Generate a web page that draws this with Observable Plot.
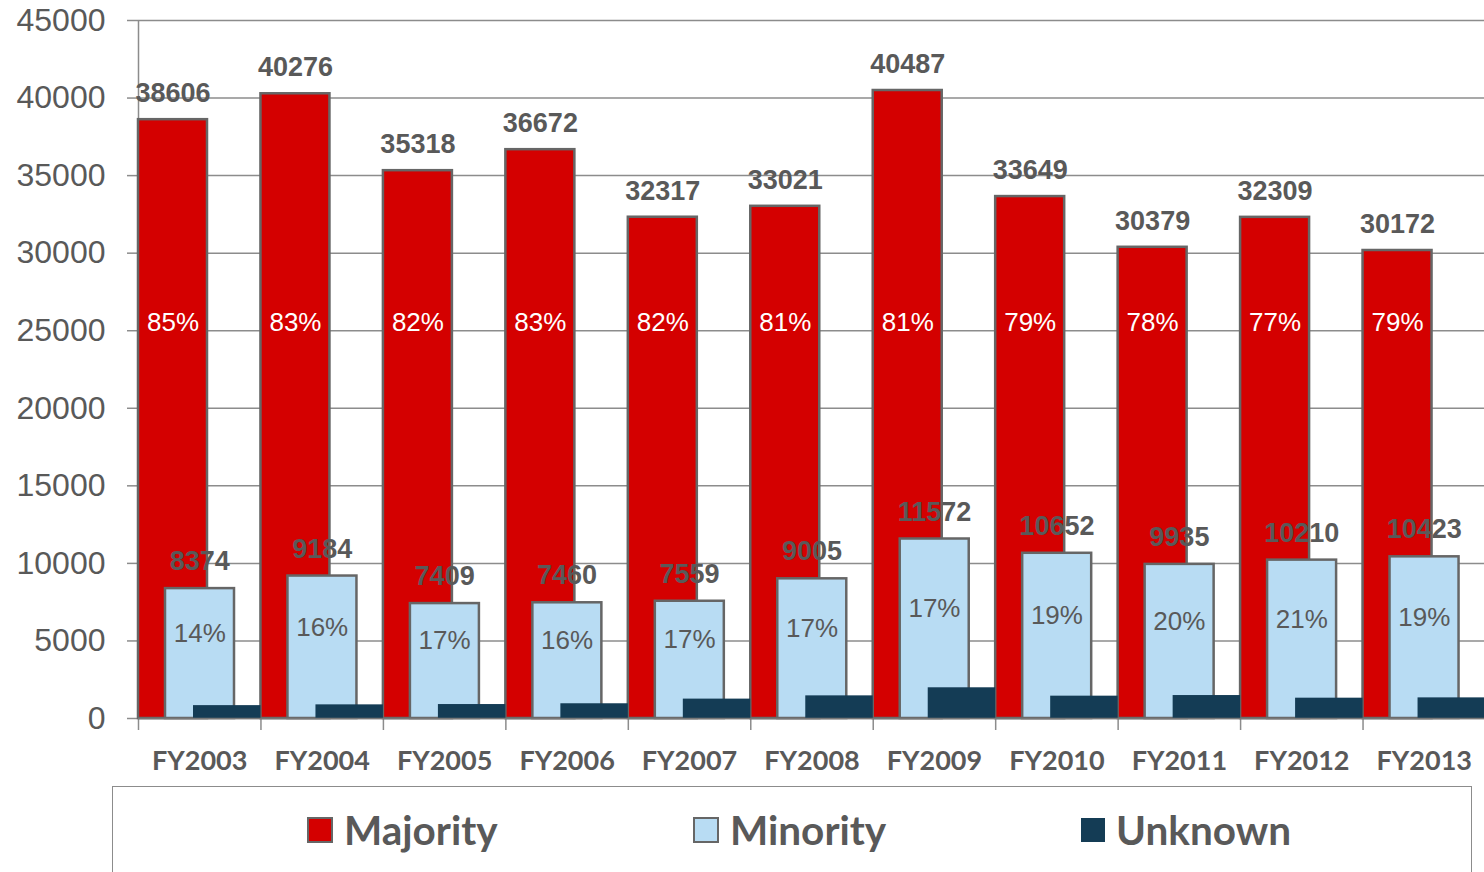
<!DOCTYPE html>
<html>
<head>
<meta charset="utf-8">
<script src="https://cdn.jsdelivr.net/npm/d3@7"></script>
<script src="https://cdn.jsdelivr.net/npm/@observablehq/plot@0.6"></script>
<style>
  html, body { margin: 0; padding: 0; background: #ffffff; overflow: hidden; }
  #wrap { position: relative; width: 1484px; height: 872px; }
  #legend { position: absolute; left: 112px; top: 786px; width: 1360px; height: 120px;
            border: 1.5px solid #8c8c8c; box-sizing: border-box; background: #fff; }
  .item { position: absolute; top: 18px; height: 50px; display: flex; align-items: center; gap: 11px;
          font-family: Lato, "Open Sans", sans-serif; font-weight: bold; font-size: 40.5px; color: #595959; line-height: 1; }
  .sw { width: 22px; height: 22px; border: 2px solid #666666; }
</style>
</head>
<body>
<div id="wrap">
  <div id="chart"></div>
  <div id="legend"></div>
</div>
<script>
const years = ["FY2003","FY2004","FY2005","FY2006","FY2007","FY2008","FY2009","FY2010","FY2011","FY2012","FY2013"];
const majority = [38606, 40276, 35318, 36672, 32317, 33021, 40487, 33649, 30379, 32309, 30172];
const minority = [8374, 9184, 7409, 7460, 7559, 9005, 11572, 10652, 9935, 10210, 10423];
const unknown = [830, 880, 900, 950, 1250, 1460, 1980, 1440, 1480, 1310, 1330];
const majorityPct = ["85%","83%","82%","83%","82%","81%","81%","79%","78%","77%","79%"];
const minorityPct = ["14%","16%","17%","16%","17%","17%","17%","19%","20%","21%","19%"];
const yTicks = [0, 5000, 10000, 15000, 20000, 25000, 30000, 35000, 40000, 45000];
const seriesNames = ["Majority", "Minority", "Unknown"];
const seriesColors = ["#d40000", "#b8dcf3", "#143c55"];

const rows = years.map((year, i) => ({
  year, majority: majority[i], minority: minority[i], unknown: unknown[i],
  majorityPct: majorityPct[i], minorityPct: minorityPct[i]
}));

const W = 1484, ML = 138, MR = -1;
const bw = (W - ML - MR) / years.length;
const barW = 69;
const pctLevel = 25500; // vertical level of the majority share labels
const grey = "#595959";
const lineGrey = "#8c8c8c";
const edge = "#666666";

const chart = Plot.plot({
  width: W,
  height: 785,
  marginLeft: ML,
  marginRight: MR,
  marginTop: 20,
  marginBottom: 67,
  style: { fontFamily: "'Liberation Sans', Arial, sans-serif", background: "#ffffff", overflow: "hidden" },
  x: { type: "band", domain: years, padding: 0, round: false },
  y: { domain: [0, 45000] },
  marks: [
    Plot.gridY(yTicks, { stroke: lineGrey, strokeOpacity: 1, strokeWidth: 1.5 }),
    Plot.axisY(yTicks, {
      tickSize: 11, tickPadding: 22, fontSize: 32, fill: grey, stroke: lineGrey, strokeWidth: 1.5,
      tickFormat: d => String(d), label: null
    }),
    Plot.axisX({ tickSize: 12, dx: -bw / 2, tickFormat: () => "", stroke: lineGrey, strokeWidth: 1.5, label: null }),
    Plot.axisX({
      tickSize: 0, tickPadding: 32, fontSize: 27, fontWeight: "bold", fill: grey,
      fontFamily: "Lato, 'Open Sans', sans-serif", label: null
    }),
    Plot.ruleX([years[0]], { x: d => d, y1: 0, y2: 45000, dx: -bw / 2, stroke: lineGrey, strokeWidth: 1.5 }),
    Plot.barY(rows, { x: "year", y: "majority", fill: seriesColors[0], stroke: edge, strokeWidth: 2.5,
      insetLeft: 0, insetRight: bw - barW }),
    Plot.barY(rows, { x: "year", y: "minority", fill: seriesColors[1], stroke: edge, strokeWidth: 2.5,
      insetLeft: 27, insetRight: bw - barW - 27 }),
    Plot.barY(rows, { x: "year", y: "unknown", fill: seriesColors[2],
      insetLeft: 55, insetRight: 0 }),
    Plot.ruleY([0], { stroke: "#777777", strokeWidth: 1.5 }),
    Plot.text(rows, { x: "year", y: "majority", text: d => String(d.majority), dx: -(bw / 2 - barW / 2), dy: -26,
      fontSize: 27, fontWeight: "bold", fill: grey }),
    Plot.text(rows, { x: "year", y: () => pctLevel, text: "majorityPct", dx: -(bw / 2 - barW / 2),
      fontSize: 26, fill: "#ffffff" }),
    Plot.text(rows, { x: "year", y: "minority", text: d => String(d.minority), dy: -27,
      fontSize: 27, fontWeight: "bold", fill: grey }),
    Plot.text(rows, { x: "year", y: d => d.minority / 2, text: "minorityPct", dy: -20,
      fontSize: 26, fill: grey })
  ]
});
document.getElementById("chart").appendChild(chart);

const legend = document.getElementById("legend");
const itemLeft = [194, 580, 968];
seriesNames.forEach((name, i) => {
  const item = document.createElement("div");
  item.className = "item";
  item.style.left = itemLeft[i] + "px";
  const sw = document.createElement("div");
  sw.className = "sw";
  sw.style.background = seriesColors[i];
  if (i === 2) { sw.style.border = "none"; sw.style.width = "24px"; sw.style.height = "24px"; }
  const label = document.createElement("span");
  label.textContent = name;
  item.appendChild(sw);
  item.appendChild(label);
  legend.appendChild(item);
});
</script>
</body>
</html>
